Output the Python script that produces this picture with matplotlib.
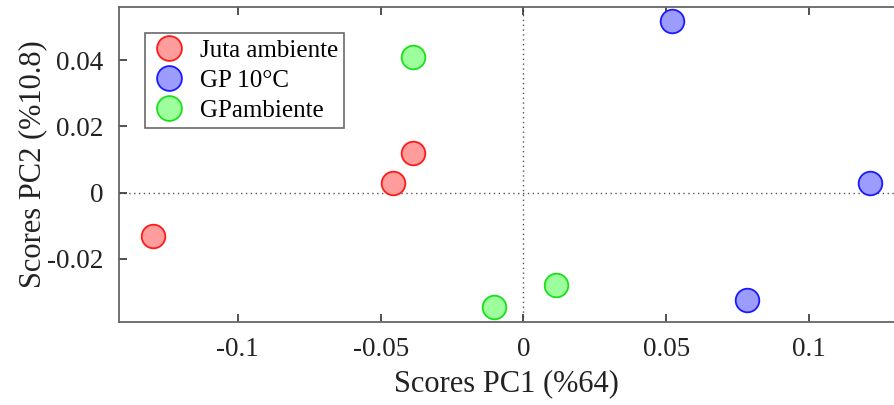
import numpy as np
import matplotlib
matplotlib.use('Agg')
import matplotlib.pyplot as plt

plt.rcParams['font.family'] = ['Liberation Serif', 'DejaVu Serif']

# scores
juta_pc1 = [-0.1296, -0.0456, -0.0386]
juta_pc2 = [-0.0130, 0.0030, 0.0119]
gp10_pc1 = [0.0520, 0.1213, 0.0781]
gp10_pc2 = [0.0517, 0.0029, -0.0325]
gpamb_pc1 = [-0.0386, -0.0102, 0.0115]
gpamb_pc2 = [0.0409, -0.0346, -0.0280]

labels = ['Juta ambiente', 'GP 10°C', 'GPambiente']
xticks = [-0.1, -0.05, 0, 0.05, 0.1]
xticklabels = ['-0.1', '-0.05', '0', '0.05', '0.1']
yticks = [-0.02, 0, 0.02, 0.04]
yticklabels = ['-0.02', '0', '0.02', '0.04']

fig = plt.figure(figsize=(8.94, 4.05), dpi=100)
ax = fig.add_axes([0.1331, 0.2049, 0.8669, 0.7778])

ax.axvline(0, color='#555555', ls=(0, (1, 2.5)), lw=1.0, zorder=1)
ax.axhline(0, color='#555555', ls=(0, (1, 2.5)), lw=1.0, zorder=1)

series = [
    (juta_pc1, juta_pc2, '#ff9c9c', '#ff1a1a'),
    (gp10_pc1, gp10_pc2, '#9c9cff', '#1a1aff'),
    (gpamb_pc1, gpamb_pc2, '#9cff9c', '#1ae01a'),
]
for (xs, ys, fc, ec), lab in zip(series, labels):
    ax.plot(xs, ys, 'o', ms=17, mfc=fc, mec=ec, mew=1.3, label=lab,
            zorder=3, clip_on=False)

ax.set_xlim(-0.1416, 0.1297)
ax.set_ylim(-0.0391, 0.0560)
ax.set_xticks(xticks)
ax.set_xticklabels(xticklabels)
ax.set_yticks(yticks)
ax.set_yticklabels(yticklabels)
ax.tick_params(direction='in', length=6, width=1.2, color='#333333',
               labelsize=19.5, top=True, right=False, pad=11,
               labelcolor='#222222')
for s in ['left', 'bottom', 'top']:
    ax.spines[s].set_color('#666666')
    ax.spines[s].set_linewidth(1.3)
ax.spines['right'].set_visible(False)

ax.set_xlabel('Scores PC1 (%64)', fontsize=22, labelpad=5, color='#222222')
ax.set_ylabel('Scores PC2 (%10.8)', fontsize=22, labelpad=0, color='#222222')

leg = ax.legend(loc='upper left', bbox_to_anchor=(0.0335, 0.917), fontsize=18,
                frameon=True, fancybox=False, borderaxespad=0,
                handletextpad=0.55, borderpad=0.25, labelspacing=0.3,
                handlelength=1.4, markerscale=1.05)
leg.get_frame().set_edgecolor('#444444')
leg.get_frame().set_linewidth(1.2)

fig.savefig('out.png', dpi=100)
